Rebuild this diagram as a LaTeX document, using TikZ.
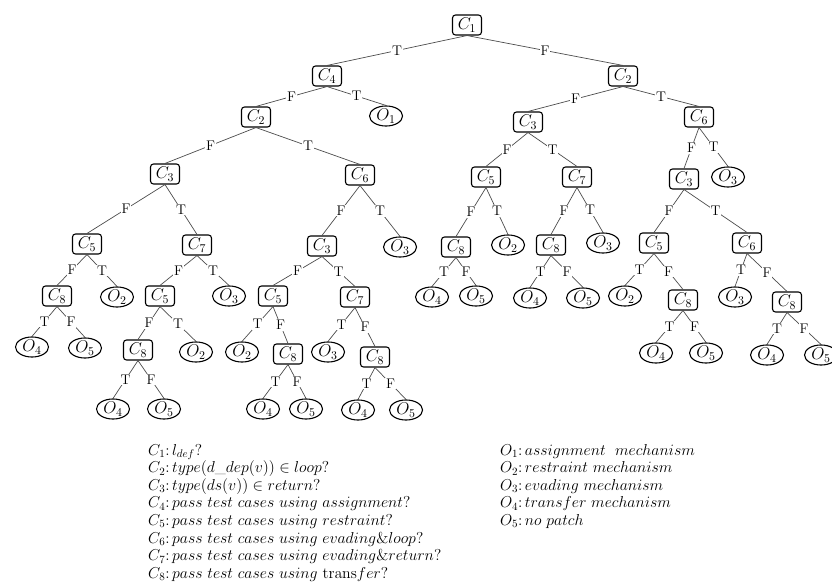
\RequirePackage{fix-cm}
\documentclass[tikz,border=0pt]{standalone}
\usetikzlibrary{shapes.geometric}
\begin{document}
\begin{tikzpicture}[x=1pt,y=-1pt,
  cond/.style={draw=black,line width=1.1pt,rounded corners=3pt,minimum width=29pt,minimum height=20pt,inner sep=0pt,font=\fontsize{17}{18}\selectfont},
  outc/.style={draw=black,line width=1.1pt,ellipse,minimum width=33pt,minimum height=20pt,inner sep=0pt,font=\fontsize{17}{18}\selectfont},
  edge/.style={draw=black!70,line width=0.7pt},
  lab/.style={fill=white,inner sep=1pt,font=\fontsize{14}{15}\selectfont},
  legend/.style={anchor=north west,align=left,inner sep=0pt,font=\fontsize{15.8}{17.6}\selectfont}
]
\useasboundingbox (0,0) rectangle (832,583);

% root and first levels
\node[cond] (c1) at (467,25) {$C_1$};
\node[cond] (c4) at (327,76) {$C_4$};
\node[cond] (c2r) at (623,76) {$C_2$};
\node[cond] (c2a) at (256,117) {$C_2$};
\node[outc] (o1) at (386,116) {$O_1$};
\node[cond] (c3a) at (165,174) {$C_3$};
\node[cond] (c6a) at (360,175) {$C_6$};

% left subtree of C3
\node[cond] (c5a) at (87,244) {$C_5$};
\node[cond] (c7a) at (197,245) {$C_7$};
\node[cond] (c8a) at (57,296) {$C_8$};
\node[outc] (o2a) at (117,297) {$O_2$};
\node[cond] (c5b) at (160,296) {$C_5$};
\node[outc] (o3b) at (229,296) {$O_3$};
\node[outc] (o4a) at (32,347) {$O_4$};
\node[outc] (o5a) at (85,348) {$O_5$};
\node[cond] (c8b) at (138,350) {$C_8$};
\node[outc] (o2b) at (196,352) {$O_2$};
\node[outc] (o4b) at (113,409) {$O_4$};
\node[outc] (o5b) at (164,409) {$O_5$};

% subtree of C6
\node[cond] (c3b) at (322,246) {$C_3$};
\node[outc] (o3a) at (400,247) {$O_3$};
\node[cond] (c5c) at (273,296) {$C_5$};
\node[cond] (c7b) at (355,297) {$C_7$};
\node[outc] (o2c) at (242,352) {$O_2$};
\node[cond] (c8c) at (288,354) {$C_8$};
\node[outc] (o3c) at (328,352) {$O_3$};
\node[cond] (c8d) at (375,357) {$C_8$};
\node[outc] (o4c) at (263,409) {$O_4$};
\node[outc] (o5c) at (306,409) {$O_5$};
\node[outc] (o4d) at (358,410) {$O_4$};
\node[outc] (o5d) at (406,410) {$O_5$};

% right half
\node[cond] (c3r) at (528,122) {$C_3$};
\node[cond] (c6r) at (699,117) {$C_6$};
\node[cond] (c5r) at (486,177) {$C_5$};
\node[cond] (c7r) at (577,177) {$C_7$};
\node[cond] (c3s) at (684,179) {$C_3$};
\node[outc] (o3r) at (728,177) {$O_3$};
\node[cond] (c8r) at (456,247) {$C_8$};
\node[outc] (o2r) at (508,245) {$O_2$};
\node[cond] (c8s) at (551,245) {$C_8$};
\node[outc] (o3s) at (603,243) {$O_3$};
\node[cond] (c5s) at (654,243) {$C_5$};
\node[cond] (c6s) at (747,243) {$C_6$};
\node[outc] (o4r) at (432,297) {$O_4$};
\node[outc] (o5r) at (476,296) {$O_5$};
\node[outc] (o4s) at (530,298) {$O_4$};
\node[outc] (o5s) at (583,298) {$O_5$};
\node[outc] (o2s) at (625,296) {$O_2$};
\node[cond] (c8t) at (683,300) {$C_8$};
\node[outc] (o3t) at (735,297) {$O_3$};
\node[cond] (c8u) at (787,302) {$C_8$};
\node[outc] (o4t) at (656,353) {$O_4$};
\node[outc] (o5t) at (706,353) {$O_5$};
\node[outc] (o4u) at (767,355) {$O_4$};
\node[outc] (o5u) at (821,355) {$O_5$};

% branches
\foreach \p/\c/\t in {
  c1/c4/T, c1/c2r/F,
  c4/c2a/F, c4/o1/T,
  c2a/c3a/F, c2a/c6a/T,
  c3a/c5a/F, c3a/c7a/T,
  c5a/c8a/F, c5a/o2a/T,
  c8a/o4a/T, c8a/o5a/F,
  c7a/c5b/F, c7a/o3b/T,
  c5b/c8b/F, c5b/o2b/T,
  c8b/o4b/T, c8b/o5b/F,
  c6a/c3b/F, c6a/o3a/T,
  c3b/c5c/F, c3b/c7b/T,
  c5c/o2c/T, c5c/c8c/F,
  c8c/o4c/T, c8c/o5c/F,
  c7b/o3c/T, c7b/c8d/F,
  c8d/o4d/T, c8d/o5d/F,
  c2r/c3r/F, c2r/c6r/T,
  c3r/c5r/F, c3r/c7r/T,
  c5r/c8r/F, c5r/o2r/T,
  c8r/o4r/T, c8r/o5r/F,
  c7r/c8s/F, c7r/o3s/T,
  c8s/o4s/T, c8s/o5s/F,
  c6r/c3s/F, c6r/o3r/T,
  c3s/c5s/F, c3s/c6s/T,
  c5s/o2s/T, c5s/c8t/F,
  c8t/o4t/T, c8t/o5t/F,
  c6s/o3t/T, c6s/c8u/F,
  c8u/o4u/T, c8u/o5u/F}
{
  \draw[edge] (\p.south) -- node[lab] {\t} (\c.north);
}

% key to the conditions and outcomes
\node[legend] (keyc) at (148,444) {%
$C_1{:}\,l_{def}?$\\
$C_2{:}\,type(d\_dep(v))\in loop?$\\
$C_3{:}\,type(ds(v))\in return?$\\
$C_4{:}\,pass\ test\ cases\ using\ assignment?$\\
$C_5{:}\,pass\ test\ cases\ using\ restraint?$\\
$C_6{:}\,pass\ test\ cases\ using\ evading\&loop?$\\
$C_7{:}\,pass\ test\ cases\ using\ evading\&return?$\\
$C_8{:}\,pass\ test\ cases\ using\ \mathrm{trans}fer?$};
\node[legend] (keyo) at (500,444) {%
$O_1{:}\,assignment\ \ mechanism$\\
$O_2{:}\,restraint\ mechanism$\\
$O_3{:}\,evading\ mechanism$\\
$O_4{:}\,transfer\ mechanism$\\
$O_5{:}\,no\ patch$};
\end{tikzpicture}
\end{document}
